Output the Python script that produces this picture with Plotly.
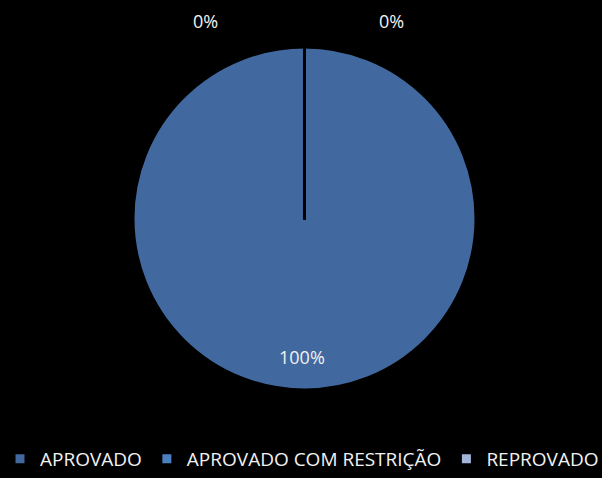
import plotly.graph_objects as go

labels = ["APROVADO", "APROVADO COM RESTRIÇÃO", "REPROVADO"]
values = [100, 0, 0]
colors = ["#41699F", "#4A80C0", "#A3B6DA"]
# label anchor positions (paper coords) for percentage texts
label_pos = [(0.502, 0.253), (0.341, 0.957), (0.651, 0.957)]

total = sum(values)

fig = go.Figure(go.Pie(
    labels=labels,
    values=values,
    sort=False,
    direction="clockwise",
    rotation=0,
    marker=dict(colors=colors, line=dict(color="#000000", width=3)),
    textinfo="none",
    hoverinfo="label+percent",
    domain=dict(x=[0.2209, 0.7907], y=[0.1841, 0.9017]),
))

for v, (px, py) in zip(values, label_pos):
    fig.add_annotation(
        x=px, y=py, xref="paper", yref="paper",
        xanchor="center", yanchor="middle",
        text=f"{v / total:.0%}", showarrow=False,
        font=dict(family="Open Sans, sans-serif", size=18, color="#F2F2F2"),
    )

fig.update_layout(
    width=602, height=478,
    paper_bgcolor="#000000", plot_bgcolor="#000000",
    margin=dict(l=0, r=0, t=0, b=0),
    showlegend=True,
    legend=dict(
        orientation="h", x=0.0, xanchor="left", y=0.0, yanchor="bottom",
        font=dict(family="Open Sans, sans-serif", size=19, color="#F2F2F2"),
        bgcolor="rgba(0,0,0,0)",
    ),
)

fig.write_html(
    "out.html",
    config={"displayModeBar": False},
    post_script="document.body.style.margin='0';document.body.style.background='#000';",
)
